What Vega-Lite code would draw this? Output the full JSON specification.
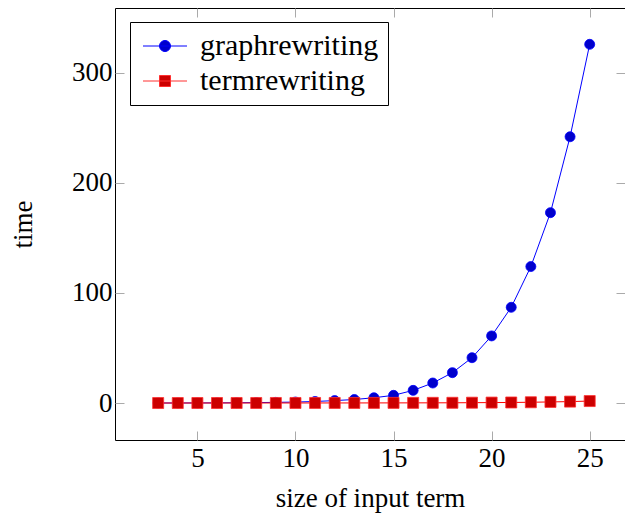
{
  "$schema": "https://vega.github.io/schema/vega-lite/v6.json",
  "autosize": "none",
  "padding": {"left": 115, "top": 8, "right": 0, "bottom": 75},
  "width": 510,
  "height": 432,
  "background": "white",
  "config": {
    "view": {"stroke": "#000000", "strokeWidth": 1},
    "font": "'Liberation Serif', serif",
    "axis": {
      "labelFont": "'Liberation Serif', serif", "labelFontSize": 27, "labelColor": "#000",
      "titleFont": "'Liberation Serif', serif", "titleFontSize": 27, "titleFontWeight": "normal", "titleColor": "#000",
      "grid": false, "domain": false, "tickColor": "#aaaaaa", "tickSize": -9, "tickWidth": 1
    }
  },
  "data": {"values": [
    {"n": 3, "series": "graphrewriting", "time": 0.03},
    {"n": 4, "series": "graphrewriting", "time": 0.05},
    {"n": 5, "series": "graphrewriting", "time": 0.09},
    {"n": 6, "series": "graphrewriting", "time": 0.15},
    {"n": 7, "series": "graphrewriting", "time": 0.25},
    {"n": 8, "series": "graphrewriting", "time": 0.4},
    {"n": 9, "series": "graphrewriting", "time": 0.6},
    {"n": 10, "series": "graphrewriting", "time": 0.9},
    {"n": 11, "series": "graphrewriting", "time": 1.4},
    {"n": 12, "series": "graphrewriting", "time": 2.2},
    {"n": 13, "series": "graphrewriting", "time": 3.2},
    {"n": 14, "series": "graphrewriting", "time": 4.8},
    {"n": 15, "series": "graphrewriting", "time": 7.0},
    {"n": 16, "series": "graphrewriting", "time": 11.5},
    {"n": 17, "series": "graphrewriting", "time": 18.2},
    {"n": 18, "series": "graphrewriting", "time": 27.6},
    {"n": 19, "series": "graphrewriting", "time": 41.2},
    {"n": 20, "series": "graphrewriting", "time": 61},
    {"n": 21, "series": "graphrewriting", "time": 87},
    {"n": 22, "series": "graphrewriting", "time": 124},
    {"n": 23, "series": "graphrewriting", "time": 173},
    {"n": 24, "series": "graphrewriting", "time": 242},
    {"n": 25, "series": "graphrewriting", "time": 326},
    {"n": 3, "series": "termrewriting", "time": 0.01},
    {"n": 4, "series": "termrewriting", "time": 0.01},
    {"n": 5, "series": "termrewriting", "time": 0.02},
    {"n": 6, "series": "termrewriting", "time": 0.02},
    {"n": 7, "series": "termrewriting", "time": 0.03},
    {"n": 8, "series": "termrewriting", "time": 0.03},
    {"n": 9, "series": "termrewriting", "time": 0.04},
    {"n": 10, "series": "termrewriting", "time": 0.05},
    {"n": 11, "series": "termrewriting", "time": 0.06},
    {"n": 12, "series": "termrewriting", "time": 0.07},
    {"n": 13, "series": "termrewriting", "time": 0.08},
    {"n": 14, "series": "termrewriting", "time": 0.1},
    {"n": 15, "series": "termrewriting", "time": 0.12},
    {"n": 16, "series": "termrewriting", "time": 0.15},
    {"n": 17, "series": "termrewriting", "time": 0.18},
    {"n": 18, "series": "termrewriting", "time": 0.22},
    {"n": 19, "series": "termrewriting", "time": 0.3},
    {"n": 20, "series": "termrewriting", "time": 0.4},
    {"n": 21, "series": "termrewriting", "time": 0.5},
    {"n": 22, "series": "termrewriting", "time": 0.7},
    {"n": 23, "series": "termrewriting", "time": 1.0},
    {"n": 24, "series": "termrewriting", "time": 1.3},
    {"n": 25, "series": "termrewriting", "time": 1.8}
  ]},
  "resolve": {"axis": {"x": "independent", "y": "independent"}},
  "layer": [
    {
      "transform": [{"filter": "datum.series === 'graphrewriting'"}],
      "mark": {"type": "line", "color": "#0000ff", "strokeWidth": 1},
      "encoding": {
        "x": {"field": "n", "type": "quantitative", "scale": {"domain": [0.8, 26.8], "nice": false, "zero": false},
              "axis": {"orient": "bottom", "values": [5, 10, 15, 20, 25], "title": "size of input term", "labelPadding": 14, "titlePadding": 14}},
        "y": {"field": "time", "type": "quantitative", "scale": {"domain": [-33.6, 359], "nice": false, "zero": false},
              "axis": {"orient": "left", "values": [0, 100, 200, 300], "title": "time", "labelPadding": 12, "titlePadding": 34}}
      }
    },
    {
      "transform": [{"filter": "datum.series === 'graphrewriting'"}],
      "mark": {"type": "point", "shape": "circle", "filled": true, "fill": "#0000cc", "stroke": "#0000ff", "strokeWidth": 0.8, "size": 100, "opacity": 1},
      "encoding": {
        "x": {"field": "n", "type": "quantitative", "axis": {"orient": "top", "values": [5, 10, 15, 20, 25], "labels": false, "title": null}},
        "y": {"field": "time", "type": "quantitative", "axis": {"orient": "right", "values": [0, 100, 200, 300], "labels": false, "title": null}}
      }
    },
    {
      "transform": [{"filter": "datum.series === 'termrewriting'"}],
      "mark": {"type": "line", "color": "#ff0000", "strokeWidth": 1},
      "encoding": {
        "x": {"field": "n", "type": "quantitative", "axis": null},
        "y": {"field": "time", "type": "quantitative", "axis": null}
      }
    },
    {
      "transform": [{"filter": "datum.series === 'termrewriting'"}],
      "mark": {"type": "point", "shape": "square", "filled": true, "fill": "#cc0000", "stroke": "#ff3030", "strokeWidth": 0.8, "size": 121, "opacity": 1},
      "encoding": {
        "x": {"field": "n", "type": "quantitative", "axis": null},
        "y": {"field": "time", "type": "quantitative", "axis": null}
      }
    },
    {
      "transform": [{"filter": "datum.n < 0"}],
      "mark": {"type": "point", "filled": true, "size": 484, "strokeWidth": 1, "opacity": 1},
      "encoding": {
        "x": {"field": "n", "type": "quantitative", "axis": null},
        "y": {"field": "time", "type": "quantitative", "axis": null},
        "shape": {"field": "series", "type": "nominal",
          "scale": {"domain": ["graphrewriting", "termrewriting"],
                    "range": ["M-1,0L3,0M0.5,0A0.5,0.5,0,1,1,1.5,0A0.5,0.5,0,1,1,0.5,0Z",
                              "M-1,0L3,0M0.5,-0.5L1.5,-0.5L1.5,0.5L0.5,0.5Z"]},
          "legend": {"orient": "none", "legendX": 15, "legendY": 14, "title": null,
                     "strokeColor": "#000", "fillColor": "#fff", "padding": 9,
                     "labelFont": "'Liberation Serif', serif", "labelFontSize": 30, "labelColor": "#000",
                     "labelOffset": 31, "rowPadding": 5, "symbolSize": 484, "symbolStrokeWidth": 1, "labelLimit": 400}},
        "fill": {"field": "series", "type": "nominal", "scale": {"domain": ["graphrewriting", "termrewriting"], "range": ["#0000cc", "#cc0000"]}},
        "stroke": {"field": "series", "type": "nominal", "scale": {"domain": ["graphrewriting", "termrewriting"], "range": ["#0000ff", "#ff3030"]}}
      }
    }
  ]
}
